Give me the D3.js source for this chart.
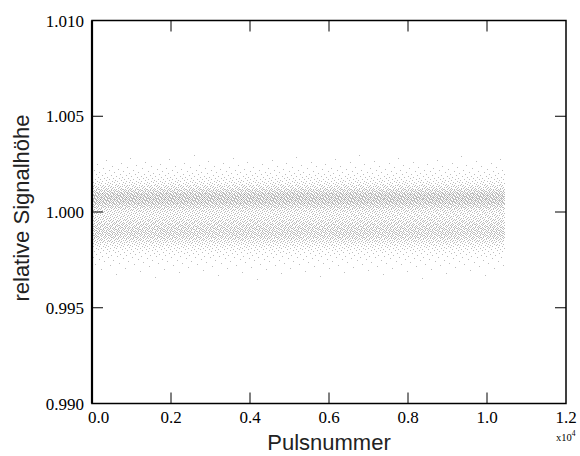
<!DOCTYPE html>
<html><head><meta charset="utf-8">
<script src="https://cdn.jsdelivr.net/npm/d3@7"></script>
<style>body{margin:0;background:#fff}svg{display:block}</style>
</head><body>
<script>
// ---- data ----
const xTicks = [0, 2000, 4000, 6000, 8000, 10000, 12000];
const xTickLabels = ["0.0", "0.2", "0.4", "0.6", "0.8", "1.0", "1.2"];
const yTicks = [0.990, 0.995, 1.000, 1.005, 1.010];
const yTickLabels = ["0.990", "0.995", "1.000", "1.005", "1.010"];
const pulseFirst = 0, pulseLast = 10450;
// density profile of the relative signal heights (bin centres, relative weights)
const yBinCenters = [1.0029,1.0027,1.0025,1.0023,1.0021,1.0019,1.0017,1.0015,1.0013,1.0011,1.0009,1.0007,1.0005,1.0003,1.0001,
  0.9999,0.9997,0.9995,0.9993,0.9991,0.9989,0.9987,0.9985,0.9983,0.9981,0.9979,0.9977,0.9975,0.9973,0.9971,0.9969,0.9967,0.9965];
const yBinWeights = [0.06,0.14,0.3,0.5,0.8,1.2,2,3,5,8,11,12,11,8,5.5,
  4.5,5,6,7,8,8.5,7.5,5.5,3.5,2.2,1.4,0.9,0.6,0.4,0.25,0.15,0.08,0.04];
const binWidth = 0.0002;

const W = 580, H = 456;
const m = {l: 92, r: 566, t: 20.5, b: 403.5};
const svg = d3.select("body").append("svg").attr("width", W).attr("height", H);
const x = d3.scaleLinear().domain([0, 12000]).range([m.l, m.r]);
const y = d3.scaleLinear().domain([0.990, 1.010]).range([m.b, m.t]);

// cumulative distribution from the profile (ascending y)
const bins = yBinCenters.map((c, i) => ({c, w: yBinWeights[i]})).sort((a, b) => a.c - b.c);
const total = d3.sum(bins, d => d.w);
let acc = 0;
bins.forEach(b => { b.lo = acc / total; acc += b.w; b.hi = acc / total; });
function quantile(u) {
  const b = bins.find(b => u <= b.hi) || bins[bins.length - 1];
  const f = (u - b.lo) / (b.hi - b.lo || 1);
  return b.c - binWidth / 2 + f * binWidth;
}
// deterministic, equidistributed spread of the pulses over the read-off profile
const phi = (Math.sqrt(5) - 1) / 2;
const points = d3.range(pulseFirst, pulseLast + 1).map(i => ({p: i, v: quantile((i * phi) % 1)}));

// points
const g = svg.append("g");
g.selectAll("rect").data(points).join("rect")
  .attr("x", d => Math.floor(x(d.p)))
  .attr("y", d => Math.floor(y(d.v)))
  .attr("width", 1).attr("height", 1)
  .attr("fill", "#000").attr("fill-opacity", 0.26);

// frame
svg.append("rect").attr("x", m.l).attr("y", m.t).attr("width", m.r - m.l).attr("height", m.b - m.t)
  .attr("fill", "none").attr("stroke", "#000").attr("stroke-width", 1.5);
svg.append("line").attr("x1", m.l).attr("x2", m.l).attr("y1", m.t).attr("y2", m.b)
  .attr("stroke", "#000").attr("stroke-width", 2.2);

// ticks (inward, mirrored)
const tl = 11;
const xt = svg.append("g").attr("stroke", "#000").attr("stroke-width", 1);
xTicks.slice(1, -1).forEach(t => {
  xt.append("line").attr("x1", x(t)).attr("x2", x(t)).attr("y1", m.b).attr("y2", m.b - tl);
  xt.append("line").attr("x1", x(t)).attr("x2", x(t)).attr("y1", m.t).attr("y2", m.t + tl);
});
yTicks.slice(1, -1).forEach(t => {
  xt.append("line").attr("x1", m.l).attr("x2", m.l + tl).attr("y1", y(t)).attr("y2", y(t));
  xt.append("line").attr("x1", m.r).attr("x2", m.r - tl).attr("y1", y(t)).attr("y2", y(t));
});

// tick labels
const serif = "'Liberation Serif','Times New Roman',serif";
svg.append("g").selectAll("text").data(xTicks).join("text")
  .attr("x", (d, i) => x(d) + (i === 0 ? 6.5 : 0)).attr("y", 423)
  .attr("text-anchor", "middle").attr("font-family", serif).attr("font-size", 17)
  .text((d, i) => xTickLabels[i]);
svg.append("g").selectAll("text").data(yTicks).join("text")
  .attr("x", 84).attr("y", d => y(d) + 6)
  .attr("text-anchor", "end").attr("font-family", serif).attr("font-size", 17)
  .text((d, i) => yTickLabels[i]);

// exponent
const ex = svg.append("text").attr("x", 556).attr("y", 441).attr("font-family", serif).attr("font-size", 10.5);
ex.append("tspan").text("x10");
ex.append("tspan").attr("dy", -5).attr("font-size", 7.5).text("4");

// axis titles
const sans = "'Liberation Sans',Arial,sans-serif";
svg.append("text").attr("x", 329).attr("y", 450).attr("text-anchor", "middle")
  .attr("font-family", sans).attr("font-size", 22).attr("fill", "#222").text("Pulsnummer");
svg.append("text").attr("transform", "translate(28.5,208) rotate(-90)").attr("text-anchor", "middle")
  .attr("font-family", sans).attr("font-size", 22).attr("fill", "#222").text("relative Signalhöhe");
</script>
</body></html>
